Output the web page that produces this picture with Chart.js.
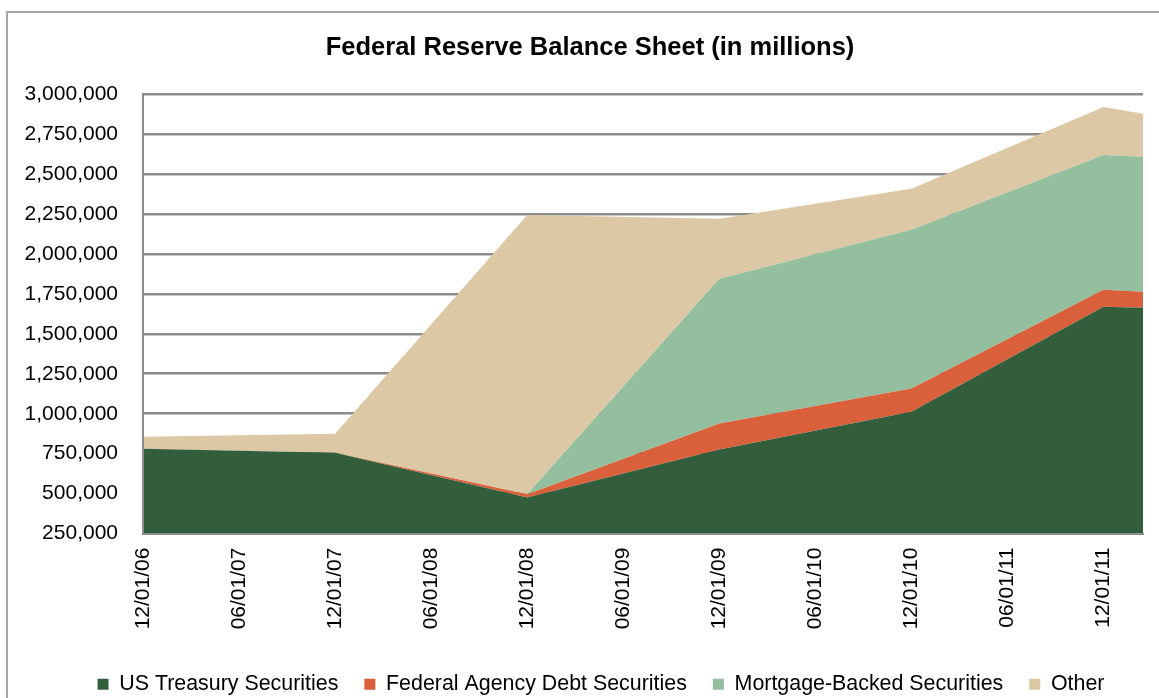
<!DOCTYPE html>
<html>
<head>
<meta charset="utf-8">
<title>Federal Reserve Balance Sheet</title>
<script src="https://cdn.jsdelivr.net/npm/chart.js@4.4.1/dist/chart.umd.min.js"></script>
<style>
  html, body { margin:0; padding:0; background:#fff; }
  body { width:1159px; height:698px; overflow:hidden; position:relative; }
  #frame { position:absolute; left:6px; top:11px; width:1300px; height:900px; border-left:2px solid #a6a6a6; border-top:2px solid #a6a6a6; }
  #wrap { position:absolute; left:0; top:0; width:1159px; height:698px; }
</style>
</head>
<body>
<div id="frame"></div>
<div id="wrap"><canvas id="fedChart" width="1159" height="698"></canvas></div>
<script>
// values in millions
const dates = ['12/01/06', '12/01/07', '12/01/08', '12/01/09', '12/01/10', '12/01/11', '02/15/12'];
const tickLabels = ['12/01/06', '06/01/07', '12/01/07', '06/01/08', '12/01/08', '06/01/09', '12/01/09', '06/01/10', '12/01/10', '06/01/11', '12/01/11'];
const treasury = [781000, 756000, 476000, 776000, 1013000, 1669000, 1663000];
const agency   = [0, 0, 20000, 162000, 145000, 106000, 100000];
const mbs      = [0, 0, 0, 907000, 993000, 844000, 844000];
const other    = [75000, 119000, 1747000, 375000, 256000, 300000, 269000];

// months since 12/01/06
function monthsOf(d){
  const [mm, dd, yy] = d.split('/').map(Number);
  return (yy - 6) * 12 + (mm - 12) + (dd - 1) / 30;
}
const xs = dates.map(monthsOf);
const pts = arr => arr.map((v, i) => ({ x: xs[i], y: v }));

const FONT = "'Liberation Sans', Arial, sans-serif";

function area(label, values, color, fill){
  return { label, data: pts(values), backgroundColor: color, borderColor: color, borderWidth: 0,
           pointRadius: 0, pointHoverRadius: 0, tension: 0, fill };
}

// y labels stick out into the left padding; widen their clip box so they aren't cut.
// legend sits a bit right of the title in the original
const tweakLayout = { id: 'tweakLayout', afterLayout: c => { c.scales.y.left = 0; c.legend.left += 22; } };

new Chart(document.getElementById('fedChart').getContext('2d'), {
  type: 'line',
  data: {
    datasets: [
      area('US Treasury Securities', treasury, '#335e3c', 'origin'),
      area('Federal Agency Debt Securities', agency, '#d9603a', '-1'),
      area('Mortgage-Backed Securities', mbs, '#93bf9e', '-1'),
      area('Other', other, '#ddc8a5', '-1')
    ]
  },
  options: {
    responsive: false,
    animation: false,
    layout: { padding: { left: 37, right: 16, top: 0, bottom: -7 } },
    plugins: {
      title: { display: true, text: 'Federal Reserve Balance Sheet (in millions)', color: '#000',
               font: { family: FONT, size: 25.5, weight: 'bold' }, padding: { top: 33, bottom: 30.4 } },
      legend: { position: 'bottom',
                labels: { color: '#000', font: { family: FONT, size: 21.4 }, boxWidth: 11, boxHeight: 11, padding: 26 } },
      tooltip: { enabled: false }
    },
    scales: {
      x: {
        type: 'linear', min: 0, max: xs[xs.length - 1],
        grid: { display: false, drawTicks: false },
        border: { display: true, color: '#8c8c8c', width: 2, z: 1 },
        ticks: { stepSize: 6, includeBounds: false, autoSkip: false, minRotation: 90, maxRotation: 90, padding: 14, color: '#000',
                 font: { family: FONT, size: 21 },
                 callback: v => tickLabels[Math.round(v / 6)] },
        afterFit: s => { s.height = 114; }
      },
      y: {
        stacked: true, min: 250000, max: 3000000,
        grid: { color: '#8c8c8c', lineWidth: 2.5, drawTicks: false },
        border: { display: true, color: '#8c8c8c', width: 2, z: 1 },
        ticks: { stepSize: 250000, padding: 25, color: '#000', font: { family: FONT, size: 21 },
                 callback: v => v.toLocaleString('en-US') },
        afterFit: s => { s.width = 106; }
      }
    }
  },
  plugins: [tweakLayout]
});
</script>
</body>
</html>
